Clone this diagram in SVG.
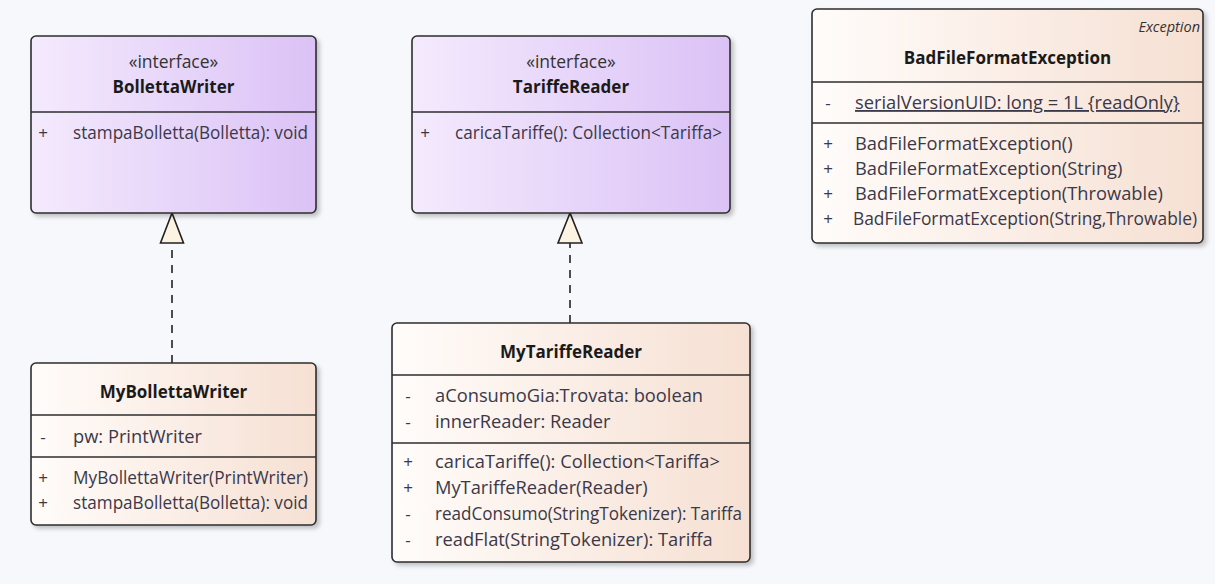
<svg xmlns="http://www.w3.org/2000/svg" width="1215" height="584" viewBox="0 0 1215 584">
<defs>
<linearGradient id="gi" x1="0" y1="0" x2="1" y2="0">
<stop offset="0" stop-color="#f4eafd"/>
<stop offset="1" stop-color="#dbc2f6"/>
</linearGradient>
<linearGradient id="gc" x1="0" y1="0" x2="1" y2="0">
<stop offset="0" stop-color="#fffcfa"/>
<stop offset="1" stop-color="#f6e0d3"/>
</linearGradient>
<filter id="sh" x="-5%" y="-5%" width="115%" height="115%">
<feDropShadow dx="3" dy="3" stdDeviation="2" flood-color="#000" flood-opacity="0.22"/>
</filter>
</defs>
<style>
.box{stroke:#2e2e2e;stroke-width:1.6;filter:url(#sh)}
.if{fill:url(#gi)}
.cl{fill:url(#gc)}
.sep{stroke:#2e2e2e;stroke-width:1.6}
.st{font-family:"Open Sans","Noto Sans",sans-serif;font-size:17.5px;fill:#333;text-anchor:middle}
.nm{font-family:"Open Sans","Noto Sans",sans-serif;font-size:17px;font-weight:bold;fill:#1a1a1a;text-anchor:middle}
.mb{font-family:"Open Sans","Noto Sans",sans-serif;font-size:18.3px;fill:#3b3848}
.vis{font-family:"Open Sans","Noto Sans",sans-serif;font-size:17px;fill:#3b3848;text-anchor:middle}
.it{font-family:"Open Sans","Noto Sans",sans-serif;font-size:14.5px;font-style:italic;fill:#333;text-anchor:end}
.dash{stroke:#222;stroke-width:1.6;stroke-dasharray:8 7;fill:none}
.tri{fill:#fdf3e3;stroke:#222;stroke-width:1.6;stroke-linejoin:miter}
</style>
<rect width="1215" height="584" fill="#f7f8fb"/>

<g id="connectors">
<path class="dash" d="M172 363 V243"/>
<polygon class="tri" points="172,213 160.5,243 183.5,243"/>
<path class="dash" d="M570 323 V243"/>
<polygon class="tri" points="570,213 558,243 582,243"/>
</g>

<g id="BollettaWriter">
<rect class="box if" x="31" y="36" width="285" height="177" rx="5"/>
<line class="sep" x1="31" y1="112" x2="316" y2="112"/>
<text class="st" x="173.5" y="68">«interface»</text>
<text class="nm" x="173.5" y="93">BollettaWriter</text>
<text class="vis" x="43" y="139">+</text>
<text class="mb" x="73" y="139" textLength="235" lengthAdjust="spacingAndGlyphs">stampaBolletta(Bolletta): void</text>
</g>

<g id="TariffeReader">
<rect class="box if" x="412" y="36" width="318" height="177" rx="5"/>
<line class="sep" x1="412" y1="112" x2="730" y2="112"/>
<text class="st" x="571" y="68">«interface»</text>
<text class="nm" x="571" y="93">TariffeReader</text>
<text class="vis" x="425" y="139">+</text>
<text class="mb" x="455" y="139" textLength="267" lengthAdjust="spacingAndGlyphs">caricaTariffe(): Collection&lt;Tariffa&gt;</text>
</g>

<g id="BadFileFormatException">
<rect class="box cl" x="812" y="9" width="391" height="234" rx="5"/>
<line class="sep" x1="812" y1="82" x2="1203" y2="82"/>
<line class="sep" x1="812" y1="123" x2="1203" y2="123"/>
<text class="it" x="1200" y="32">Exception</text>
<text class="nm" x="1007.5" y="64">BadFileFormatException</text>
<text class="vis" x="828" y="109">-</text>
<text class="mb" x="855" y="109" text-decoration="underline">serialVersionUID: long = 1L {readOnly}</text>
<text class="vis" x="828" y="150">+</text>
<text class="mb" x="855" y="150">BadFileFormatException()</text>
<text class="vis" x="828" y="175">+</text>
<text class="mb" x="855" y="175">BadFileFormatException(String)</text>
<text class="vis" x="828" y="200">+</text>
<text class="mb" x="855" y="200">BadFileFormatException(Throwable)</text>
<text class="vis" x="828" y="225">+</text>
<text class="mb" x="853" y="225" textLength="344" lengthAdjust="spacingAndGlyphs">BadFileFormatException(String,Throwable)</text>
</g>

<g id="MyBollettaWriter">
<rect class="box cl" x="31" y="363" width="285" height="162" rx="5"/>
<line class="sep" x1="31" y1="415" x2="316" y2="415"/>
<line class="sep" x1="31" y1="457" x2="316" y2="457"/>
<text class="nm" x="173.5" y="398">MyBollettaWriter</text>
<text class="vis" x="43" y="443">-</text>
<text class="mb" x="73" y="443">pw: PrintWriter</text>
<text class="vis" x="43" y="484">+</text>
<text class="mb" x="73" y="484" textLength="235" lengthAdjust="spacingAndGlyphs">MyBollettaWriter(PrintWriter)</text>
<text class="vis" x="43" y="509">+</text>
<text class="mb" x="73" y="509" textLength="235" lengthAdjust="spacingAndGlyphs">stampaBolletta(Bolletta): void</text>
</g>

<g id="MyTariffeReader">
<rect class="box cl" x="392" y="323" width="358" height="239" rx="5"/>
<line class="sep" x1="392" y1="375" x2="750" y2="375"/>
<line class="sep" x1="392" y1="443" x2="750" y2="443"/>
<text class="nm" x="571" y="358">MyTariffeReader</text>
<text class="vis" x="408" y="402">-</text>
<text class="mb" x="435" y="402">aConsumoGia:Trovata: boolean</text>
<text class="vis" x="408" y="428">-</text>
<text class="mb" x="435" y="428">innerReader: Reader</text>
<text class="vis" x="408" y="468">+</text>
<text class="mb" x="435" y="468">caricaTariffe(): Collection&lt;Tariffa&gt;</text>
<text class="vis" x="408" y="494">+</text>
<text class="mb" x="435" y="494">MyTariffeReader(Reader)</text>
<text class="vis" x="408" y="520">-</text>
<text class="mb" x="435" y="520" textLength="307" lengthAdjust="spacingAndGlyphs">readConsumo(StringTokenizer): Tariffa</text>
<text class="vis" x="408" y="546">-</text>
<text class="mb" x="435" y="546">readFlat(StringTokenizer): Tariffa</text>
</g>
</svg>
